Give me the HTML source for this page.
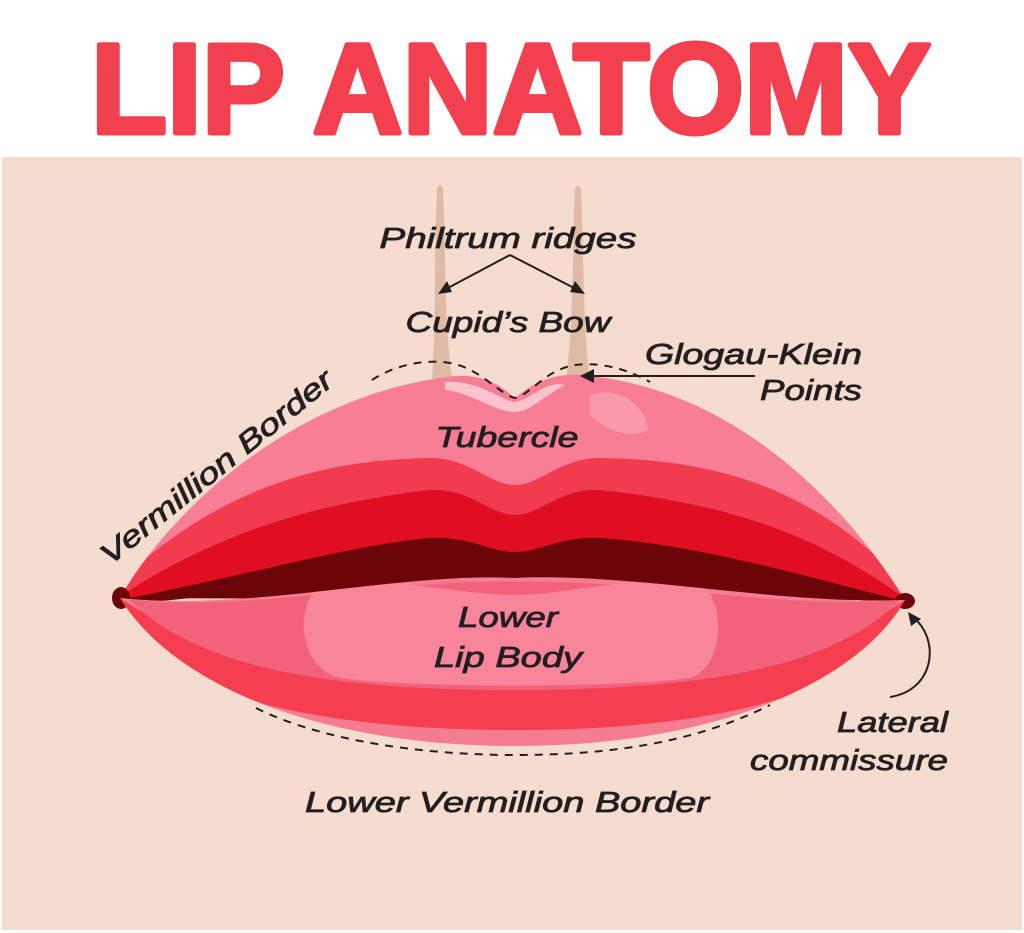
<!DOCTYPE html>
<html><head><meta charset="utf-8"><style>
html,body{margin:0;padding:0;background:#fff;}
svg{display:block;}
text{font-family:"Liberation Sans",sans-serif;}
.l{font-style:italic;font-size:29px;fill:#231f20;stroke:#231f20;stroke-width:0.8;}
</style></head><body>
<svg width="1024" height="933" viewBox="0 0 1024 933" xmlns="http://www.w3.org/2000/svg">
<rect width="1024" height="933" fill="#fff"/>
<rect x="2" y="157" width="1020" height="773" fill="#f4dccf"/>
<text x="511" y="133" text-anchor="middle" font-size="128" font-weight="bold" fill="#f2404e" stroke="#f2404e" stroke-width="5" stroke-linejoin="round" textLength="840" lengthAdjust="spacingAndGlyphs">LIP ANATOMY</text>
<!-- philtrum -->
<path d="M432,380 C436,320 434,250 437,190 C438,184 442,184 443,190 C446,250 444,320 452,380 Z" fill="#dfbaa5"/>
<path d="M566,380 C574,320 572,250 575,190 C576,184 580,184 581,190 C584,250 582,320 590,380 Z" fill="#dfbaa5"/>
<defs>
<clipPath id="up"><path d="M120,598 C170,510 290,400 440,378 C480,370 500,385 515,398 C530,385 555,370 590,376 C740,392 850,510 905,600 Z"/></clipPath>
<clipPath id="lo"><path d="M120,598 C250,612 400,572 515,578 C630,572 780,605 905,600 C860,680 720,746 515,746 C310,746 170,680 120,598 Z"/></clipPath>
</defs>
<g clip-path="url(#up)">
<rect x="100" y="360" width="820" height="260" fill="#f77e94"/>
<path d="M100,600 C200,500 300,460 430,458 C470,458 490,485 515,485 C540,485 560,458 600,458 C740,460 830,500 920,600 Z" fill="#f23b4e"/>
<path d="M100,610 C200,540 300,505 430,490 C470,488 490,515 515,515 C540,515 560,488 600,490 C740,505 830,540 920,610 Z" fill="#df0e21"/>
<path d="M110,602 C250,575 350,545 430,538 C470,536 490,552 515,552 C540,552 560,536 600,538 C700,545 800,575 915,604 Z" fill="#6b0508"/>
<path d="M590,395 C620,385 645,405 648,430 C630,440 605,430 590,415 Z" fill="#f89aab"/>
<path d="M445,382 C480,380 500,400 515,402 C530,400 545,380 565,385 C545,395 530,412 515,412 C495,412 470,392 445,390 Z" fill="#fbc4cd"/>
</g>
<path d="M118,600 C250,580 350,552 430,548 C470,548 490,563 515,563 C540,563 560,548 600,548 C700,550 800,585 906,602 L906,606 C800,596 700,560 600,558 C560,558 540,570 515,570 C490,570 470,558 430,558 C350,562 250,598 120,604 Z" fill="#6b0508"/>
<ellipse cx="121" cy="598" rx="9" ry="11" fill="#6b0508"/>
<ellipse cx="905" cy="601" rx="10" ry="8" fill="#6b0508"/>
<g clip-path="url(#lo)">
<rect x="100" y="570" width="820" height="190" fill="#f47d92"/>
<path d="M120,598 C200,650 300,688 515,690 C730,688 830,650 905,600 L905,640 C820,700 700,730 515,730 C330,730 200,700 120,640 Z" fill="#f63e51"/>
<path d="M130,600 C250,612 400,578 515,582 C630,578 780,610 900,600 C840,660 730,690 515,690 C300,690 190,660 130,600 Z" fill="#f2627b"/>
<path d="M335,580 C420,582 470,595 515,595 C560,595 610,580 690,580 C725,582 730,665 690,678 C620,688 410,688 340,678 C290,665 295,582 335,580 Z" fill="#f9859a"/>
</g>
<path d="M372,380 C390,368 420,358 450,363 C480,368 500,395 515,398 C530,395 545,370 575,365 C600,362 625,368 650,382" fill="none" stroke="#231f20" stroke-width="2" stroke-dasharray="8,7"/>
<path d="M256,708 C320,740 420,755 515,755 C620,755 700,740 770,705" fill="none" stroke="#231f20" stroke-width="2" stroke-dasharray="8,7"/>
<g stroke="#231f20" stroke-width="2" fill="none">
<path d="M510,255 L446,289"/><path d="M510,255 L576,289"/>
<path d="M755,376 L592,376"/>
<path d="M890,697 C935,690 940,640 914,618"/>
</g>
<g fill="#231f20">
<path d="M438,294 L447,281 L452,292 Z"/>
<path d="M585,294 L570,292 L575,281 Z"/>
<path d="M580,376 L594,369 L594,383 Z"/>
<path d="M908,612 L921,619 L911,626 Z"/>
</g>
<text class="l" x="508" y="248" text-anchor="middle" textLength="257" lengthAdjust="spacingAndGlyphs">Philtrum ridges</text>
<text class="l" x="508" y="332" text-anchor="middle" textLength="205" lengthAdjust="spacingAndGlyphs">Cupid’s Bow</text>
<text class="l" x="645" y="364" textLength="217" lengthAdjust="spacingAndGlyphs">Glogau-Klein</text>
<text class="l" x="862" y="400" text-anchor="end" textLength="102" lengthAdjust="spacingAndGlyphs">Points</text>
<text class="l" x="507" y="447" text-anchor="middle" textLength="143" lengthAdjust="spacingAndGlyphs">Tubercle</text>
<text class="l" x="508" y="627" text-anchor="middle" textLength="100" lengthAdjust="spacingAndGlyphs">Lower</text>
<text class="l" x="508" y="667" text-anchor="middle" textLength="148" lengthAdjust="spacingAndGlyphs">Lip Body</text>
<text class="l" x="948" y="732" text-anchor="end" textLength="111" lengthAdjust="spacingAndGlyphs">Lateral</text>
<text class="l" x="948" y="770" text-anchor="end" textLength="198" lengthAdjust="spacingAndGlyphs">commissure</text>
<text class="l" x="507" y="812" text-anchor="middle" textLength="404" lengthAdjust="spacingAndGlyphs">Lower Vermillion Border</text>
<text class="l" transform="translate(110,566) rotate(-39)" textLength="290" lengthAdjust="spacingAndGlyphs">Vermillion Border</text>
</svg>
</body></html>
